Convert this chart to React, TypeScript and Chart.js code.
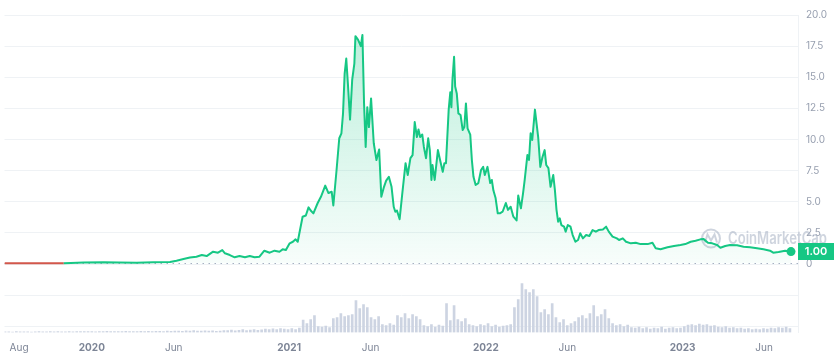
import { useEffect, useRef } from "react";
import { Chart, registerables } from "chart.js";

Chart.register(...registerables);

// x values are days counted from 2020-01-01
const X_MIN_DAY = -162;
const X_MAX_DAY = 1310;
const X_TICK_DAYS = [-135, 0, 152, 366, 517, 731, 882, 1096, 1247];
const X_TICK_LABELS = ["Aug", "2020", "Jun", "2021", "Jun", "2022", "Jun", "2023", "Jun"];
const YEAR_LABELS = ["2020", "2021", "2022", "2023"];
const Y_TICKS = [-5, -2.5, 0, 2.5, 5, 7.5, 10, 12.5, 15, 17.5, 20];
const OPEN_PRICE = 0.07;
const LAST_PRICE_LABEL = "1.00";

const priceDays = [
  -162, -125, -89, -52, -39, -15, 22, 50, 83, 114,
  145, 157, 170, 182, 194, 204, 213, 225, 234, 242,
  247, 256, 265, 274, 284, 293, 302, 311, 320, 330,
  339, 348, 354, 360, 367, 373, 378, 382, 385, 391,
  397, 402, 406, 411, 419, 425, 433, 439, 445, 448,
  454, 459, 463, 466, 469, 472, 475, 479, 483, 487,
  489, 494, 499, 502, 505, 508, 511, 514, 518, 523,
  528, 533, 537, 542, 546, 551, 556, 560, 563, 566,
  571, 576, 582, 586, 591, 595, 599, 603, 606, 609,
  613, 616, 620, 624, 627, 630, 632, 636, 642, 646,
  651, 654, 657, 662, 665, 667, 669, 672, 674, 677,
  680, 684, 688, 691, 694, 697, 702, 705, 708, 712,
  717, 722, 726, 729, 734, 739, 742, 745, 749, 753,
  757, 762, 768, 772, 777, 782, 788, 791, 796, 800,
  803, 808, 811, 814, 817, 822, 825, 828, 832, 836,
  840, 843, 847, 851, 856, 859, 862, 865, 868, 871,
  876, 879, 883, 888, 892, 897, 902, 906, 911, 917,
  923, 929, 935, 940, 948, 954, 959, 966, 974, 978,
  985, 991, 1000, 1009, 1018, 1031, 1040, 1046, 1055, 1068,
  1080, 1092, 1101, 1111, 1120, 1129, 1135, 1143, 1151, 1160,
  1166, 1175, 1184, 1197, 1209, 1221, 1234, 1246, 1258, 1264,
  1274, 1286, 1297,
];

const prices = [
  0.06, 0.06, 0.055, 0.06, 0.09, 0.12, 0.15, 0.12, 0.11, 0.15,
  0.17, 0.27, 0.4, 0.52, 0.59, 0.72, 0.64, 0.99, 0.91, 1.12,
  0.86, 0.72, 0.54, 0.64, 0.54, 0.64, 0.54, 0.59, 1.07, 0.91,
  1.07, 0.99, 1.18, 1.12, 1.66, 1.79, 1.98, 1.79, 2.47, 3.8,
  3.9, 4.55, 4.3, 4.07, 4.9, 5.4, 6.3, 5.7, 5.8, 4.7,
  7.55, 10.1, 10.5, 12.1, 15.3, 16.5, 14.5, 11.6, 14.8, 16.1,
  18.3, 18.0, 17.5, 18.4, 12.9, 9.4, 12.6, 11.0, 13.3, 9.7,
  8.35, 9.2, 5.4, 6.2, 6.7, 7.0, 6.2, 4.6, 4.2, 4.3,
  3.6, 5.7, 8.1, 7.15, 8.5, 8.75, 11.4, 10.2, 10.8, 10.2,
  10.4, 9.4, 8.5, 10.1, 9.15, 6.75, 7.95, 6.75, 9.15, 8.35,
  7.4, 8.1, 8.1, 12.4, 13.8, 12.6, 14.8, 16.65, 14.25, 13.7,
  12.1, 11.97, 10.76, 11.0, 12.9, 10.9, 10.4, 8.35, 7.0, 6.35,
  6.5, 7.55, 7.8, 7.15, 7.8, 6.5, 6.75, 5.9, 5.3, 4.07,
  4.07, 4.2, 4.9, 4.35, 4.6, 3.8, 3.5, 5.5, 4.47, 5.7,
  6.75, 8.75, 8.35, 10.5, 9.96, 12.4, 11.3, 10.2, 7.8, 8.6,
  9.15, 7.95, 7.7, 6.2, 7.15, 5.95, 4.35, 3.4, 3.67, 3.13,
  3.0, 2.6, 3.13, 3.0, 2.33, 1.79, 1.93, 2.47, 2.06, 2.33,
  2.25, 2.73, 2.6, 2.73, 2.78, 3.0, 2.6, 2.2, 2.06, 1.93,
  2.06, 1.79, 1.66, 1.71, 1.6, 1.6, 1.71, 1.26, 1.18, 1.34,
  1.45, 1.53, 1.6, 1.79, 1.87, 1.98, 2.0, 1.71, 1.66, 1.53,
  1.31, 1.45, 1.53, 1.5, 1.39, 1.34, 1.26, 1.18, 1.07, 0.91,
  0.96, 1.07, 1.0,
];

// weekly volume (millions), first week starting day -161
const VOL_FIRST_DAY = -161;
const VOL_STEP_DAYS = 7;
const volumes = [
  6, 7, 5, 8, 6, 7, 6, 5, 7, 8, 6, 7, 9, 6, 8, 7, 6, 8, 7, 9, 8,
  9, 8, 10, 7, 9, 8, 11, 9, 8, 10, 9, 12, 8, 10, 9, 11, 10, 12, 9, 11,
  12, 10, 14, 11, 13, 15, 12, 16, 14, 18, 13, 15, 17, 14, 16, 12, 15,
  20, 18, 25, 16, 22, 28, 19, 24, 30, 22, 26, 34, 28, 36, 30, 40, 35,
  30, 38, 28, 45,
  125, 90, 130, 170, 60, 55, 65, 50, 140, 150,
  190, 160, 170, 180, 320, 240, 280, 250, 150, 130,
  160, 80, 70, 90, 75, 170, 150, 190, 140, 180,
  160, 130, 70, 60, 80, 55, 75, 65, 290, 120,
  270, 130, 110, 140, 80, 70, 60, 80, 70, 90,
  60, 75, 55, 65, 70, 80, 250, 330, 490, 430,
  400, 430, 360, 200, 230, 180, 290, 150, 100, 130,
  70, 90, 110, 150, 170, 140, 190, 270, 160, 180,
  230, 140, 90, 70, 80, 60, 75, 50, 45, 55,
  40, 50, 35, 45, 40, 55, 35, 45, 50, 40,
  45, 60, 75, 80, 70, 85, 75, 80, 65, 70,
  55, 50, 60, 45, 50, 40, 45, 35, 40, 30,
  35, 30, 40, 35, 45, 40, 50, 45, 55, 40,
];

const GREEN = "#16c784";
const RED = "#d2574b";
const FONT = "Inter, 'Noto Sans', sans-serif";

const overlayPlugin = {
  id: "cmcOverlay",
  beforeDatasetsDraw(chart: any) {
    const { ctx, chartArea } = chart;
    const ys = chart.scales.y;
    // dotted open-price line
    const yOpen = Math.round(ys.getPixelForValue(OPEN_PRICE)) + 0.5;
    ctx.save();
    ctx.strokeStyle = "#a6b0c3";
    ctx.lineWidth = 1;
    ctx.setLineDash([1.5, 4.5]);
    ctx.beginPath();
    ctx.moveTo(chartArea.left, yOpen);
    ctx.lineTo(chartArea.right, yOpen);
    ctx.stroke();
    ctx.restore();

    // watermark
    ctx.save();
    const wmColor = "rgba(166,176,195,0.55)";
    const cx = chartArea.right - 87;
    const cy = ys.getPixelForValue(2.05);
    ctx.strokeStyle = wmColor;
    ctx.lineWidth = 2;
    ctx.beginPath();
    ctx.arc(cx, cy, 9, 0, Math.PI * 2);
    ctx.stroke();
    ctx.beginPath();
    ctx.moveTo(cx - 6, cy + 4);
    ctx.lineTo(cx - 3.5, cy - 4);
    ctx.lineTo(cx, cy + 2);
    ctx.lineTo(cx + 3.5, cy - 4);
    ctx.lineTo(cx + 6, cy + 4);
    ctx.stroke();
    ctx.fillStyle = wmColor;
    ctx.font = `600 17px ${FONT}`;
    ctx.textBaseline = "middle";
    ctx.textAlign = "left";
    ctx.fillText("CoinMarketCap", cx + 17, cy + 0.5, 99);
    ctx.restore();
  },
  afterDatasetsDraw(chart: any) {
    const { ctx, chartArea } = chart;
    const ys = chart.scales.y;
    const last = prices[prices.length - 1];
    const y = ys.getPixelForValue(last);
    ctx.save();
    ctx.fillStyle = GREEN;
    ctx.fillRect(chartArea.right, Math.round(y - 8.5), 36, 17);
    ctx.fillStyle = "#ffffff";
    ctx.font = `600 11px ${FONT}`;
    ctx.textAlign = "center";
    ctx.textBaseline = "middle";
    ctx.fillText(LAST_PRICE_LABEL, chartArea.right + 18, Math.round(y - 8.5) + 9);
    ctx.restore();
  },
};

export default function App() {
  const ref = useRef<HTMLCanvasElement>(null);

  useEffect(() => {
    const lastIndex = prices.length - 1;
    const chart = new Chart(ref.current as HTMLCanvasElement, {
      type: "line",
      data: {
        datasets: [
          {
            type: "line",
            data: priceDays.map((d, i) => ({ x: d, y: prices[i] })),
            xAxisID: "x",
            yAxisID: "y",
            borderColor: GREEN,
            borderWidth: 2,
            borderJoinStyle: "round",
            tension: 0,
            pointRadius: (c: any) => (c.dataIndex === lastIndex ? 4.5 : 0),
            pointHoverRadius: 0,
            pointBorderWidth: 0,
            pointBackgroundColor: GREEN,
            segment: {
              borderColor: (c: any) =>
                c.p0.parsed.y < OPEN_PRICE && c.p1.parsed.y < OPEN_PRICE ? RED : GREEN,
            },
            backgroundColor: (c: any) => {
              const ch = c.chart;
              if (!ch.chartArea) return "rgba(22,199,132,0.1)";
              const ys = ch.scales.y;
              const g = ch.ctx.createLinearGradient(0, ys.getPixelForValue(18), 0, ys.getPixelForValue(0));
              g.addColorStop(0, "rgba(22,199,132,0.28)");
              g.addColorStop(1, "rgba(22,199,132,0.03)");
              return g;
            },
            fill: { target: { value: OPEN_PRICE } },
            order: 0,
          } as any,
          {
            type: "bar",
            data: volumes.map((v, i) => ({ x: VOL_FIRST_DAY + VOL_STEP_DAYS * i, y: v })),
            xAxisID: "x",
            yAxisID: "yVol",
            backgroundColor: "#cdd4e2",
            barThickness: 2,
            order: 1,
          } as any,
        ],
      },
      options: {
        animation: false,
        responsive: false,
        maintainAspectRatio: false,
        events: [],
        layout: { padding: { top: 15, left: 0, right: 0, bottom: 0 } },
        plugins: { legend: { display: false }, tooltip: { enabled: false } },
        scales: {
          x: {
            type: "linear",
            min: X_MIN_DAY,
            max: X_MAX_DAY,
            offset: false,
            grid: { display: false },
            border: { display: false },
            afterBuildTicks: (s: any) => {
              s.ticks = X_TICK_DAYS.map((v) => ({ value: v }));
            },
            afterFit: (s: any) => {
              s.height = 23.5;
            },
            ticks: {
              autoSkip: false,
              maxRotation: 0,
              padding: 1,
              color: "#7d8596",
              font: (c: any) => {
                const i = X_TICK_DAYS.indexOf(c.tick ? c.tick.value : NaN);
                const bold = i >= 0 && YEAR_LABELS.includes(X_TICK_LABELS[i]);
                return { family: FONT, size: 10, weight: bold ? "bold" : "normal" };
              },
              callback: (v: any) => {
                const i = X_TICK_DAYS.indexOf(Number(v));
                return i >= 0 ? X_TICK_LABELS[i] : "";
              },
            },
          },
          y: {
            type: "linear",
            position: "right",
            min: -5.5,
            max: 20,
            afterBuildTicks: (s: any) => {
              s.ticks = Y_TICKS.map((v) => ({ value: v }));
            },
            afterFit: (s: any) => {
              s.width = 38;
            },
            grid: { color: "#eff2f5", drawTicks: false },
            border: { display: true, color: "#eff2f5" },
            ticks: {
              padding: 8,
              color: "#98a0b0",
              font: { family: FONT, size: 10 },
              callback: (v: any) => {
                const n = Number(v);
                if (n < 0) return "";
                if (n === 0) return "0";
                return n.toFixed(1);
              },
            },
          },
          yVol: {
            type: "linear",
            display: false,
            min: 0,
            max: 3175,
          },
        },
      } as any,
      plugins: [overlayPlugin],
    });
    return () => chart.destroy();
  }, []);

  return (
    <div style={{ position: "fixed", left: 0, top: 0, width: 836, height: 356, background: "#ffffff" }}>
      <canvas ref={ref} width={836} height={356} style={{ display: "block", width: 836, height: 356 }} />
    </div>
  );
}
